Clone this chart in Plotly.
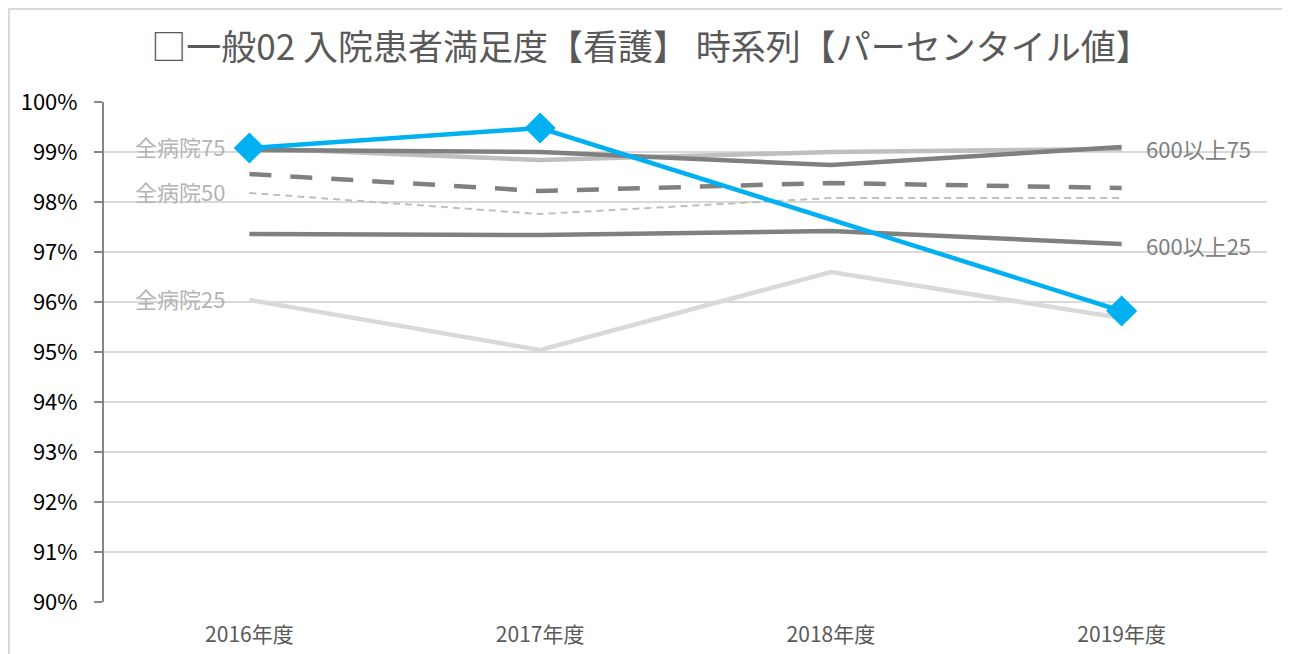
import plotly.graph_objects as go

categories = ["2016年度", "2017年度", "2018年度", "2019年度"]

own_hospital = [99.08, 99.48, None, 95.82]
all_75 = [99.08, 98.84, 99.00, 99.06]
all_50 = [98.18, 97.76, 98.08, 98.08]
all_25 = [96.04, 95.04, 96.60, 95.68]
big_75 = [99.04, 99.00, 98.74, 99.10]
big_50 = [98.56, 98.22, 98.38, 98.28]
big_25 = [97.36, 97.34, 97.42, 97.16]

y_ticks = [90, 91, 92, 93, 94, 95, 96, 97, 98, 99, 100]
y_tick_labels = [f"{v}%" for v in y_ticks]

title_text = "□一般02 入院患者満足度【看護】 時系列【パーセンタイル値】"

FONT = "Noto Sans CJK JP"

W, H = 1282, 646
ML, MR, MT, MB = 96, 23, 94, 52
PW, PH = W - ML - MR, H - MT - MB

fig = go.Figure()

def add_line(y, color, width, dash="solid", name=""):
    fig.add_trace(go.Scatter(
        x=categories, y=y, mode="lines", name=name,
        line=dict(color=color, width=width, dash=dash),
        hoverinfo="skip", showlegend=False))

add_line(all_25, "#d9d9d9", 4.5, name="全病院25")
add_line(all_50, "#bfbfbf", 2, dash="7px,5px", name="全病院50")
add_line(all_75, "#bfbfbf", 4.5, name="全病院75")
add_line(big_25, "#808080", 4.5, name="600以上25")
add_line(big_50, "#808080", 4.5, dash="22px,19px", name="600以上50")
add_line(big_75, "#808080", 4.5, name="600以上75")

fig.add_trace(go.Scatter(
    x=categories, y=own_hospital, mode="lines+markers", name="自院",
    connectgaps=True,
    line=dict(color="#00b0f0", width=4.5),
    marker=dict(symbol="diamond", size=24, color="#00b0f0"),
    showlegend=False))

left_labels = [("全病院75", all_75[0]), ("全病院50", all_50[0]), ("全病院25", all_25[0])]
for text, yv in left_labels:
    fig.add_annotation(x=categories[0], y=yv, text=text, showarrow=False,
                       xanchor="right", yanchor="middle", xshift=-22, yshift=2,
                       font=dict(family=FONT, size=22, color="#b4b4b4"))
right_labels = [("600以上75", big_75[-1]), ("600以上25", big_25[-1])]
for text, yv in right_labels:
    fig.add_annotation(x=categories[-1], y=yv, text=text, showarrow=False,
                       xanchor="left", yanchor="middle", xshift=22, yshift=-1,
                       font=dict(family=FONT, size=22, color="#808080"))

# chart frame
fig.add_shape(type="rect", xref="paper", yref="paper",
              x0=-(ML - 1) / PW, x1=1.05, y0=-0.2, y1=1 + (MT - 1) / PH,
              line=dict(color="#d9d9d9", width=2), fillcolor="rgba(0,0,0,0)",
              layer="below")

fig.update_layout(
    width=W, height=H,
    margin=dict(l=ML, r=MR, t=MT, b=MB),
    paper_bgcolor="white", plot_bgcolor="white",
    title=dict(text=title_text, x=(651 - 8) / W, xref="container", xanchor="center",
               y=1 - 40 / H, yref="container", yanchor="middle",
               font=dict(family=FONT, size=35, color="#595959")),
    font=dict(family=FONT),
    xaxis=dict(type="category", showgrid=False, showline=False, ticks="",
               tickfont=dict(family=FONT, size=21, color="#595959"),
               range=[-0.5, 3.5], zeroline=False, ticklabelstandoff=18,
               automargin=False),
    yaxis=dict(range=[90, 100], tickvals=y_ticks, ticktext=y_tick_labels,
               showgrid=True, gridcolor="#d9d9d9", gridwidth=2,
               showline=True, linecolor="#868686", linewidth=2,
               ticks="outside", ticklen=8, tickcolor="#868686", tickwidth=2,
               tickfont=dict(family=FONT, size=22, color="#000000"),
               zeroline=False, ticklabelstandoff=12, automargin=False),
)

fig.write_html("out.html")
